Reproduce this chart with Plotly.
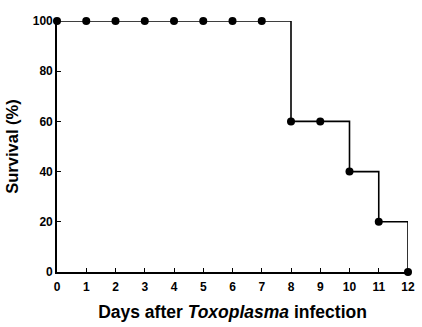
import plotly.graph_objects as go

days = [0, 1, 2, 3, 4, 5, 6, 7, 8, 9, 10, 11, 12]
survival = [100, 100, 100, 100, 100, 100, 100, 100, 60, 60, 40, 20, 0]
x_ticks = list(range(0, 13))
y_ticks = [0, 20, 40, 60, 80, 100]

font_family = "Liberation Sans, Arial, sans-serif"

fig = go.Figure()
fig.add_trace(go.Scatter(
    x=days, y=survival, mode="lines+markers",
    line=dict(shape="hv", color="black", width=1.6),
    marker=dict(color="black", size=8),
    cliponaxis=False, showlegend=False,
))

fig.update_layout(
    width=422, height=327,
    margin=dict(l=57, r=14, t=21, b=55, autoexpand=False),
    paper_bgcolor="white", plot_bgcolor="white",
    font=dict(family=font_family, color="black"),
    xaxis=dict(
        range=[0, 12], tickvals=x_ticks, ticks="inside", ticklen=4, tickwidth=1.2,
        tickcolor="black", showline=True, linecolor="black", linewidth=1.6,
        showgrid=False, zeroline=False, automargin=False, ticklabelstandoff=3,
        tickfont=dict(size=12, weight="bold", family=font_family),
        title=dict(text="<b>Days after <i>Toxoplasma</i> infection</b>",
                   font=dict(size=17.5, family=font_family), standoff=13),
    ),
    yaxis=dict(
        range=[0, 100], tickvals=y_ticks, ticks="inside", ticklen=4, tickwidth=1.2,
        tickcolor="black", showline=True, linecolor="black", linewidth=1.6,
        showgrid=False, zeroline=False, automargin=False,
        tickfont=dict(size=12, weight="bold", family=font_family),
        title=dict(text="<b>Survival (%)</b>",
                   font=dict(size=16.5, family=font_family), standoff=10),
    ),
)

fig.write_html("out.html")
